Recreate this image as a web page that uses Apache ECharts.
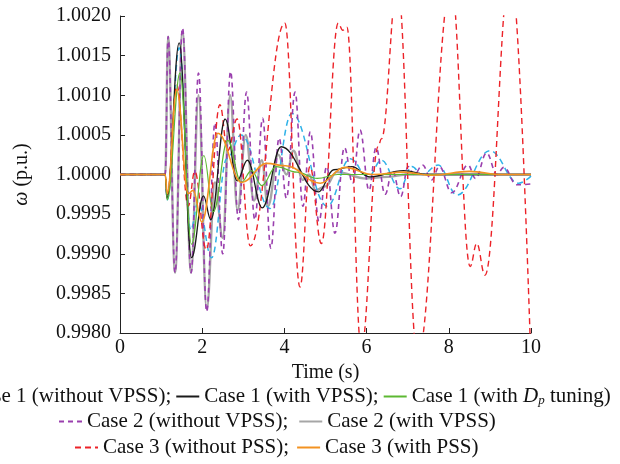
<!DOCTYPE html>
<html>
<head>
<meta charset="utf-8">
<script src="https://cdn.jsdelivr.net/npm/echarts@6/dist/echarts.min.js"></script>
<style>
  html, body { margin: 0; padding: 0; background: #fff; }
  #chart { width: 620px; height: 464px; }
</style>
</head>
<body>
<div id="chart"></div>
<script>
// values: time (s) and rotor speed (p.u.) at the turning points
const tCase1NoVpss = [0, 1.1, 1.15, 1.44, 1.72, 1.9, 2.23, 2.6, 2.95, 3.65, 4.18, 5.04, 5.6, 6.04, 6.36, 6.81, 7.1, 7.35, 7.74, 8.2, 9.0, 9.7, 10]
const wCase1NoVpss = [1, 1, 0.99968, 1.0016, 0.9993, 0.99965, 0.99895, 1.0002, 1.0005, 0.99957, 1.00077, 0.9996, 1.0002, 0.99997, 1.00018, 0.99982, 1.0001, 1.0, 1.00012, 0.99974, 1.0003, 0.99989, 0.99998]

const tCase1Vpss = [0, 1.1, 1.14, 1.44, 1.74, 2.03, 2.21, 2.56, 2.85, 3.1, 3.46, 3.92, 4.83, 5.2, 5.64, 6.08, 6.9, 7.5, 10]
const wCase1Vpss = [1, 1, 0.9997, 1.00166, 0.99895, 0.99973, 0.99943, 1.0007, 0.99992, 1.00018, 0.99958, 1.00035, 0.99978, 1.00006, 1.0001, 0.99997, 1.00005, 1.0, 1.0]

const tCase1Dp = [0, 1.1, 1.15, 1.46, 1.74, 2.04, 2.27, 2.62, 2.95, 3.2, 3.45, 3.8, 4.3, 4.8, 5.3, 6, 10]
const wCase1Dp = [1, 1, 0.99968, 1.00128, 0.99912, 1.00024, 0.99953, 1.00043, 0.9999, 1.00005, 0.99986, 1.0001, 1.00003, 0.99995, 1.0, 1.0, 1.0]

const tCase2NoVpss = [0, 1.1, 1.17, 1.34, 1.52, 1.73, 1.91, 2.11, 2.31, 2.5, 2.69, 2.88, 3.08, 3.28, 3.47, 3.67, 3.87, 4.05, 4.26, 4.45, 4.63, 4.84, 5.03, 5.23, 5.46, 5.66, 5.84, 6.06, 6.23, 6.45, 6.63, 6.83, 7.01, 7.16, 7.36, 7.58, 7.77, 8.07, 8.47, 8.65, 8.92, 9.17, 9.34, 9.65, 10]
const wCase2NoVpss = [1, 1, 1.00174, 0.99876, 1.00185, 0.99876, 1.00128, 0.99827, 1.00065, 0.999, 1.0013, 0.99943, 1.00104, 0.99943, 1.00071, 0.99907, 1.00046, 0.9997, 1.00104, 0.9996, 1.00054, 0.99941, 1.0001, 0.99926, 1.00034, 0.99989, 1.00056, 0.9998, 1.00034, 0.99975, 1.00005, 0.99972, 1.0001, 1.0, 1.00012, 0.99993, 1.0001, 0.99977, 1.00012, 0.99995, 1.00027, 1.0, 1.00009, 0.99987, 0.99988]

const tCase2Vpss = [0, 1.1, 1.17, 1.34, 1.52, 1.73, 1.91, 2.11, 2.31, 2.5, 2.68, 2.86, 3.06, 3.26, 3.45, 3.6, 3.85, 4.05, 4.22, 4.45, 4.6, 4.76, 5.0, 5.27, 6.0, 6.5, 7, 10]
const wCase2Vpss = [1, 1, 1.00174, 0.99876, 1.0018, 0.99876, 1.001, 0.9983, 0.9999, 0.9992, 1.001, 0.99955, 1.0005, 0.99967, 1.00018, 0.9996, 1.00025, 1.0, 1.0003, 0.99993, 1.0, 0.9998, 0.99985, 1.00003, 0.99995, 0.99997, 1.0, 1.0]

const tCase3NoPss = [0, 1.1, 1.15, 1.38, 1.66, 1.82, 2.1, 2.43, 2.62, 2.85, 3.17, 4.01, 4.38, 4.62, 4.9, 5.31, 5.42, 5.52, 5.87, 6.28, 6.36, 6.75, 7.24, 8.06, 8.52, 8.68, 8.88, 9.5, 10]
const wCase3NoPss = [1, 1, 0.99972, 1.00113, 0.9996, 1.00004, 0.99905, 1.00088, 1.0003, 1.0007, 0.9991, 1.00191, 0.99858, 1.0001, 0.99913, 1.00191, 1.00182, 1.00186, 0.9978, 1.00035, 1.00045, 1.0024, 0.9977, 1.0024, 0.99884, 0.99913, 0.99873, 1.0026, 0.9976]

const tCase3Pss = [0, 1.1, 1.15, 1.38, 1.66, 1.78, 1.99, 2.38, 2.96, 3.57, 4.03, 4.87, 5.47, 6.16, 6.9, 7.6, 8.5, 9.3, 10]
const wCase3Pss = [1, 1, 0.99976, 1.00107, 0.99976, 0.9998, 0.9994, 1.00052, 0.9999, 1.00014, 1.00011, 0.99989, 1.00009, 1.0, 1.00003, 0.99999, 1.00004, 1.0, 1.0]

const legendNames = [
  'Case 1 (without VPSS)', 'Case 1 (with VPSS)', 'Case 1 (with Dp tuning)',
  'Case 2 (without VPSS)', 'Case 2 (with VPSS)',
  'Case 3 (without PSS)', 'Case 3 (with PSS)'
]
const rowEnds = ['Case 1 (with Dp tuning)', 'Case 2 (with VPSS)', 'Case 3 (with PSS)']

const FONT = '"Liberation Serif", "DejaVu Serif", serif'
const zip = (t, w) => t.map((x, i) => [x, w[i]])

// draw order: grey under the purple dashes, orange on top
const lines = [
  { name: legendNames[4], t: tCase2Vpss, w: wCase2Vpss, color: '#a6a6a6', width: 2.4, type: 'solid' },
  { name: legendNames[0], t: tCase1NoVpss, w: wCase1NoVpss, color: '#2fb2e8', width: 1.5, type: [6, 4] },
  { name: legendNames[3], t: tCase2NoVpss, w: wCase2NoVpss, color: '#9a3fae', width: 1.6, type: [5, 4] },
  { name: legendNames[5], t: tCase3NoPss, w: wCase3NoPss, color: '#ec2228', width: 1.4, type: [6, 4] },
  { name: legendNames[1], t: tCase1Vpss, w: wCase1Vpss, color: '#1a1a1a', width: 1.3, type: 'solid' },
  { name: legendNames[2], t: tCase1Dp, w: wCase1Dp, color: '#5cb832', width: 1.2, type: 'solid' },
  { name: legendNames[6], t: tCase3Pss, w: wCase3Pss, color: '#f39221', width: 1.6, type: 'solid' }
]

const chart = echarts.init(document.getElementById('chart'))

// legend keyed off the line icon only, the marker dot is hidden
const legendBase = {
  orient: 'horizontal',
  itemWidth: 23,
  itemHeight: 10,
  itemStyle: { opacity: 0 },
  selectedMode: false,
  padding: 0,
  textStyle: {
    fontFamily: FONT,
    fontSize: 21,
    color: '#111',
    rich: {
      i: { fontFamily: FONT, fontSize: 21, fontStyle: 'italic', color: '#111' },
      sub: { fontFamily: FONT, fontSize: 13, fontStyle: 'italic', color: '#111', verticalAlign: 'bottom', lineHeight: 6 }
    }
  },
  formatter: name => {
    let s = name.replace('Dp', '{i|D}{sub|p}')
    return rowEnds.includes(name) ? s : s + ';'
  }
}

const option = {
  animation: false,
  backgroundColor: '#fff',
  grid: { left: 120, right: 89, top: 16, bottom: 131 },
  legend: [
    Object.assign({}, legendBase, { left: -59, top: 386, itemGap: 4, data: legendNames.slice(0, 3) }),
    Object.assign({}, legendBase, { left: 58, top: 411, itemGap: 10, data: legendNames.slice(3, 5) }),
    Object.assign({}, legendBase, { left: 74, top: 437, itemGap: 7, data: legendNames.slice(5, 7) })
  ],
  xAxis: {
    type: 'value',
    min: 0,
    max: 10,
    interval: 2,
    name: 'Time (s)',
    nameLocation: 'middle',
    nameGap: 28,
    nameTextStyle: { fontFamily: FONT, fontSize: 20, color: '#111' },
    axisLine: { lineStyle: { color: '#222', width: 1 } },
    axisTick: { inside: true, length: 5, lineStyle: { color: '#222' } },
    axisLabel: { fontFamily: FONT, fontSize: 20, color: '#111', margin: 5 },
    splitLine: { show: false }
  },
  yAxis: {
    type: 'value',
    min: 0.998,
    max: 1.002,
    interval: 0.0005,
    name: '{w|ω} (p.u.)',
    nameLocation: 'middle',
    nameRotate: 90,
    nameGap: 88,
    nameTextStyle: {
      fontFamily: FONT, fontSize: 20, color: '#111',
      rich: { w: { fontFamily: FONT, fontSize: 20, fontStyle: 'italic', color: '#111' } }
    },
    axisLine: { show: true, lineStyle: { color: '#222', width: 1 } },
    axisTick: { show: true, inside: true, length: 5, lineStyle: { color: '#222' } },
    axisLabel: { fontFamily: FONT, fontSize: 20, color: '#111', margin: 9, formatter: v => v.toFixed(4) },
    splitLine: { show: false }
  },
  series: lines.map(s => ({
    name: s.name,
    type: 'line',
    data: zip(s.t, s.w),
    smooth: 0.4,
    smoothMonotone: 'x',
    showSymbol: false,
    symbol: 'none',
    clip: true,
    color: s.color,
    lineStyle: { color: s.color, width: s.width, type: s.type }
  }))
}

chart.setOption(option)
</script>
</body>
</html>
